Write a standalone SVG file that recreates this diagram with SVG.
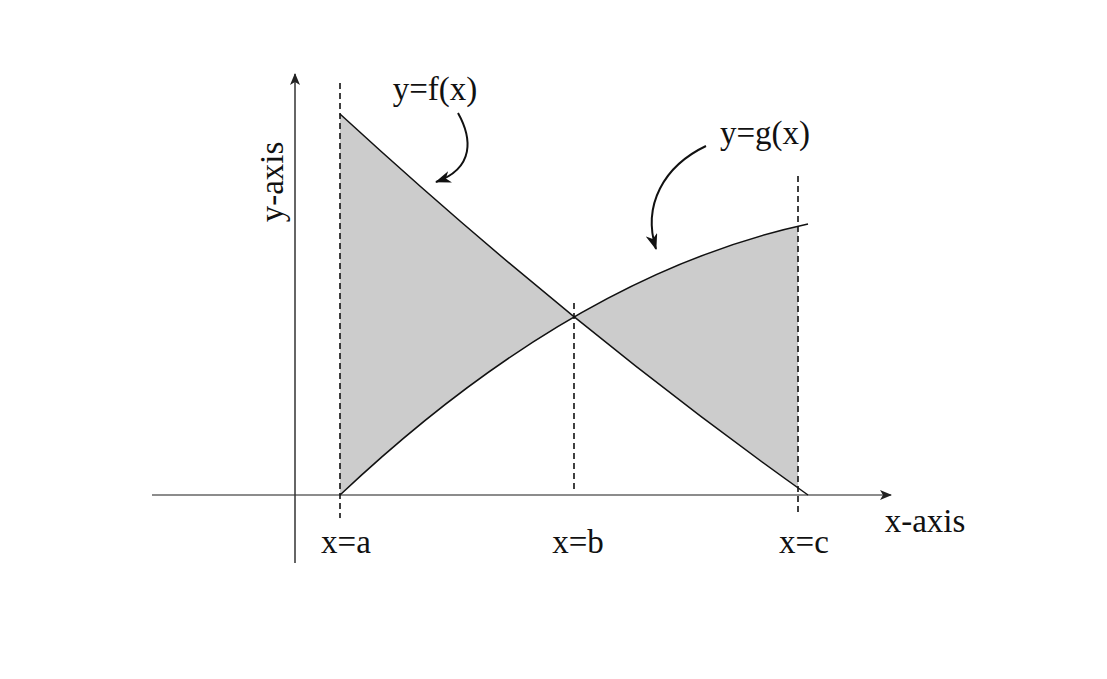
<svg xmlns="http://www.w3.org/2000/svg" width="1107" height="679" viewBox="0 0 1107 679">
<style>
text{font-family:"Liberation Serif","Times New Roman",serif;font-size:33px;fill:#111;text-anchor:middle}
.curve{fill:none;stroke:#111;stroke-width:1.5}
.dash{fill:none;stroke:#111;stroke-width:1.6;stroke-dasharray:6 4}
.axis{fill:none;stroke-width:1.5}
.ptr{fill:none;stroke:#111;stroke-width:2}
</style>
<defs>
<marker id="ah" markerUnits="userSpaceOnUse" viewBox="0 0 16 12" refX="15" refY="6" markerWidth="16" markerHeight="12" orient="auto">
<path d="M0,0 L16,6 L0,12 L4.5,6 Z" fill="#111"/>
</marker>
<marker id="axh" markerUnits="userSpaceOnUse" viewBox="0 0 12 10" refX="11" refY="5" markerWidth="12" markerHeight="10" orient="auto">
<path d="M0,0 L12,5 L0,10 L3,5 Z" fill="#222"/>
</marker>
<clipPath id="clip"><rect x="340" y="0" width="458" height="679"/></clipPath>
</defs>
<rect width="1107" height="679" fill="#fff"/>
<g id="shading">
<path clip-path="url(#clip)" d="M340,114 Q574,329 808,495 L808,224 Q574,274.5 340,495 Z" fill="#cccccc"/>
</g>
<g id="axes">
<line class="axis" x1="152" y1="495" x2="891" y2="495" stroke="#666" marker-end="url(#axh)"/>
<line class="axis" x1="295" y1="563" x2="295" y2="74" stroke="#333" marker-end="url(#axh)"/>
</g>
<g id="guides">
<line class="dash" x1="340" y1="83" x2="340" y2="518"/>
<line class="dash" x1="574" y1="303" x2="574" y2="492"/>
<line class="dash" x1="798" y1="176" x2="798" y2="513"/>
</g>
<g id="connectors">
<path id="f-curve" class="curve" d="M340,114 Q574,329 808,495"/>
<path id="g-curve" class="curve" d="M340,495 Q574,274.5 808,224"/>
<path class="ptr" d="M458,113 C472,138 475,168 436,182" marker-end="url(#ah)"/>
<path class="ptr" d="M706,146 C664,166 642,205 656,249" marker-end="url(#ah)"/>
</g>
<g id="labels">
<text x="435" y="100">y=f(x)</text>
<text x="765" y="144">y=g(x)</text>
<text x="925" y="532">x-axis</text>
<text x="346" y="553">x=a</text>
<text x="578" y="553">x=b</text>
<text x="804" y="553">x=c</text>
<text transform="translate(283,182) rotate(-90)">y-axis</text>
</g>
</svg>
